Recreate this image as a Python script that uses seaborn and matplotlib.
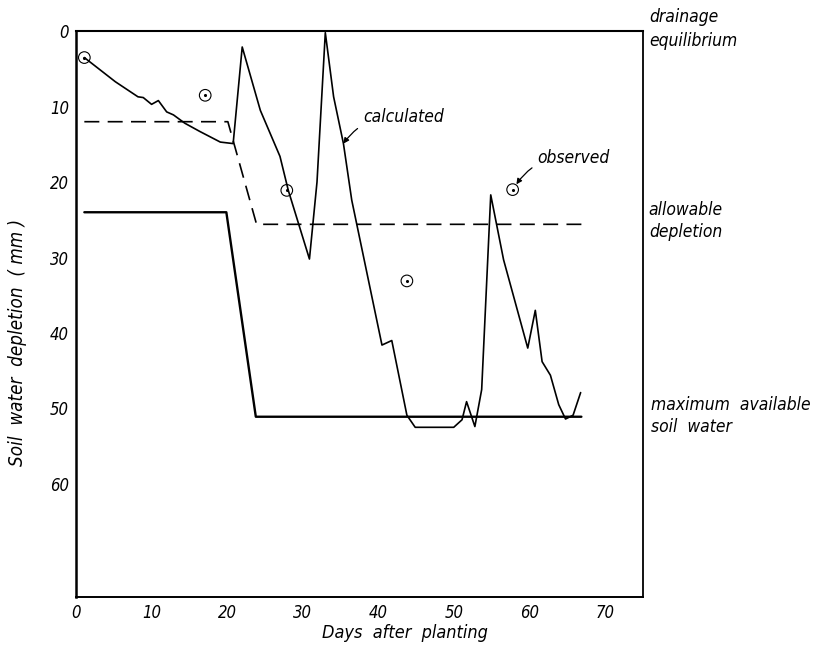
import matplotlib
matplotlib.use("Agg")
import matplotlib.pyplot as plt
import matplotlib.transforms as mtransforms
import pandas as pd
import seaborn as sns

# Calculated soil water depletion (mm) by day after planting
calc_days = [1.1, 5.2, 8.2, 8.9, 10.0, 10.9, 12.0, 12.9, 14.4, 16.4, 19.1, 20.8,
             22.0, 24.4, 27.0, 28.1, 30.9, 31.9, 33.0, 34.1, 35.4, 36.5, 40.5,
             41.8, 43.8, 44.9, 50.0, 51.1, 51.7, 52.8, 53.7, 54.9, 56.6, 59.8,
             60.8, 61.7, 62.8, 63.9, 64.8, 65.8, 66.8]
calc_depl = [3.5, 6.7, 8.7, 8.8, 9.7, 9.2, 10.7, 11.1, 12.2, 13.3, 14.7, 14.9,
             2.1, 10.5, 16.6, 21.1, 30.2, 20.0, 0.2, 8.7, 14.9, 22.4, 41.6,
             41.0, 50.9, 52.5, 52.5, 51.5, 49.1, 52.4, 47.5, 21.7, 30.3, 42.0,
             37.0, 43.8, 45.6, 49.5, 51.4, 50.9, 47.9]

# Allowable depletion
allow_days = [1.1, 20.1, 23.9, 66.9]
allow_depl = [12.0, 12.0, 25.6, 25.6]

# Maximum available soil water
max_days = [1.1, 19.9, 23.8, 66.9]
max_depl = [24.0, 24.0, 51.1, 51.1]

# Observed depletion
obs_days = [1.1, 17.1, 27.9, 43.8, 57.8]
obs_depl = [3.5, 8.5, 21.1, 33.1, 21.0]

x_ticks = [0, 10, 20, 30, 40, 50, 60, 70]
y_ticks = [0, 10, 20, 30, 40, 50, 60]

sns.set_style("white")
plt.rcParams["font.family"] = ["DejaVu Sans"]
plt.rcParams["font.style"] = "italic"
plt.rcParams["font.stretch"] = "condensed"
plt.rcParams["text.color"] = "black"
plt.rcParams["axes.labelcolor"] = "black"

fig = plt.figure(figsize=(8.14, 6.49), dpi=100)
ax = fig.add_axes([0.0934, 0.080, 0.696, 0.872])

calc = pd.DataFrame({"day": calc_days, "depl": calc_depl})
allow = pd.DataFrame({"day": allow_days, "depl": allow_depl})
maxav = pd.DataFrame({"day": max_days, "depl": max_depl})
obs = pd.DataFrame({"day": obs_days, "depl": obs_depl})

sns.lineplot(data=calc, x="day", y="depl", sort=False, estimator=None,
             color="black", linewidth=1.2, ax=ax)
sns.lineplot(data=allow, x="day", y="depl", sort=False, estimator=None,
             color="black", linewidth=1.2, ax=ax)
ax.lines[-1].set_dashes([9, 5])
sns.lineplot(data=maxav, x="day", y="depl", sort=False, estimator=None,
             color="black", linewidth=1.7, ax=ax)
sns.scatterplot(data=obs, x="day", y="depl", marker="o", s=70,
                facecolor="none", edgecolor="black", linewidth=0.8, ax=ax, zorder=5)
sns.scatterplot(data=obs, x="day", y="depl", marker="o", s=5,
                color="black", linewidth=0, ax=ax, zorder=6)

ax.set_xlim(0, 75)
ax.set_ylim(75, 0)
ax.set_xticks(x_ticks)
ax.set_yticks(y_ticks)
ax.tick_params(direction="in", length=5, width=1.5, labelsize=12, pad=5,
               colors="black")
for lab in ax.get_xticklabels() + ax.get_yticklabels():
    lab.set_fontstyle("italic")

for side, lw in (("left", 1.8), ("bottom", 1.4), ("top", 1.5), ("right", 1.3)):
    ax.spines[side].set_visible(True)
    ax.spines[side].set_color("black")
    ax.spines[side].set_linewidth(lw)

ax.set_xlabel("Days  after  planting", fontsize=13, fontstyle="italic")
ax.set_ylabel("Soil  water  depletion  ( mm )", fontsize=13.5, fontstyle="italic")
ax.xaxis.set_label_coords(0.58, -0.048)
ax.yaxis.set_label_coords(-0.087, 0.45)

# Labels for the reference levels, placed just outside the right spine
trans = mtransforms.blended_transform_factory(ax.transAxes, ax.transData)
ax.text(1.011, -0.3, "drainage\nequilibrium", transform=trans, fontsize=12.5,
        fontstyle="italic", va="center", ha="left", linespacing=1.4)
ax.text(1.011, 25.2, "allowable\ndepletion", transform=trans, fontsize=12.5,
        fontstyle="italic", va="center", ha="left", linespacing=1.3)
ax.text(1.014, 51.0, "maximum  available\nsoil  water", transform=trans,
        fontsize=12.5, fontstyle="italic", va="center", ha="left", linespacing=1.3)

ax.annotate("calculated", xy=(35.4, 14.9), xytext=(38.0, 11.4),
            fontsize=12.5, fontstyle="italic", va="center", ha="left",
            arrowprops=dict(arrowstyle="-|>", color="black", lw=0.9,
                            shrinkA=2, shrinkB=0, mutation_scale=8,
                            connectionstyle="arc3,rad=0.3"))
ax.annotate("observed", xy=(58.3, 20.3), xytext=(61.1, 16.8),
            fontsize=12.5, fontstyle="italic", va="center", ha="left",
            arrowprops=dict(arrowstyle="-|>", color="black", lw=0.9,
                            shrinkA=2, shrinkB=0, mutation_scale=8,
                            connectionstyle="arc3,rad=0.3"))

fig.savefig("out.png", dpi=100, facecolor="white")
